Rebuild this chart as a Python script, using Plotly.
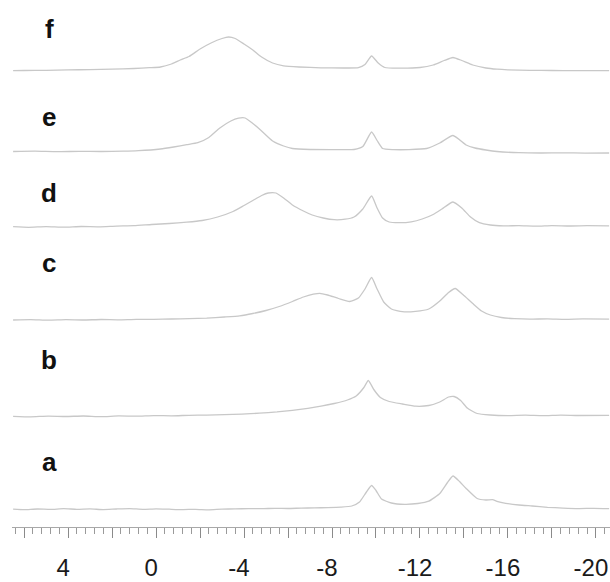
import plotly.graph_objects as go

# Chemical shift (ppm) and intensity readings for each trace, bottom (a) to top (f)
ppm_a = [6.5, 6.0, 5.4, 4.8, 4.2, 3.6, 3.0, 2.4, 1.8, 1.2, 0.6, 0.0, -0.6, -1.2, -1.8, -2.4,
         -3.0, -3.6, -4.2, -4.8, -5.4, -6.0, -6.6, -7.2, -7.8, -8.4, -8.9, -9.25, -9.55, -9.8,
         -10.0, -10.25, -10.7, -11.3, -11.9, -12.4, -12.9, -13.25, -13.5, -13.8, -14.1, -14.6,
         -15.0, -15.3, -15.5, -15.9, -16.5, -17.1, -17.8, -18.5, -19.2, -19.9, -20.6]
int_a = [0.3, -0.2, 0.5, 0.1, 0.8, 0.2, 0.6, -0.1, 0.5, 0.9, 0.2, 0.7, 0.3, -0.1, 0.2, -0.3,
         0.4, 0.6, 0.9, 0.8, 1.2, 1.0, 1.4, 1.6, 1.9, 2.4, 3.5, 7.5, 17.0, 24.0,
         19.0, 10.5, 6.5, 5.2, 6.0, 8.3, 16.0, 27.0, 33.5, 28.0, 21.0, 11.0,
         9.5, 9.8, 8.2, 6.2, 4.5, 3.5, 2.2, 1.4, 0.9, 1.2, 0.8]

ppm_b = [6.5, 5.7, 4.9, 4.1, 3.3, 2.5, 1.7, 0.9, 0.1, -0.7, -1.5, -2.3, -3.1, -3.9, -4.7,
         -5.5, -6.2, -6.9, -7.5, -8.1, -8.7, -9.1, -9.45, -9.65, -9.9, -10.2, -10.6, -11.2,
         -11.8, -12.4, -12.9, -13.3, -13.55, -13.85, -14.15, -14.6, -15.2, -16.0, -16.8,
         -17.6, -18.4, -19.2, -20.6]
int_b = [0.2, -0.3, 0.4, 0.0, 0.5, -0.2, 0.6, 0.3, 0.9, 0.7, 1.2, 1.4, 1.8, 2.4, 3.3,
         4.6, 6.2, 8.2, 10.3, 13.0, 16.5, 20.5, 29.0, 36.0, 27.0, 19.0, 15.0, 12.5,
         10.3, 11.0, 14.5, 19.5, 20.0, 16.0, 8.5, 3.0, 1.5, 0.9, 1.3,
         0.8, 1.4, 1.0, 1.2]

ppm_c = [6.5, 5.7, 4.9, 4.1, 3.3, 2.5, 1.7, 0.9, 0.1, -0.7, -1.5, -2.3, -3.1, -3.8, -4.4,
         -5.0, -5.6, -6.2, -6.7, -7.15, -7.45, -7.8, -8.3, -8.8, -9.2, -9.5, -9.8, -10.05,
         -10.35, -10.7, -11.2, -11.8, -12.4, -12.9, -13.3, -13.6, -13.95, -14.4, -14.8,
         -15.2, -15.7, -16.3, -17.0, -17.8, -18.6, -19.4, -20.6]
int_c = [0.0, 0.4, -0.2, 0.3, 0.0, 0.5, 0.2, 0.7, 0.6, 1.0, 1.3, 1.9, 3.0, 4.2, 6.5,
         9.5, 13.5, 18.5, 23.0, 25.8, 26.7, 25.0, 21.5, 18.5, 22.0, 31.0, 42.5, 31.0,
         18.0, 11.0, 8.3, 8.6, 11.0, 19.0, 27.5, 31.5, 25.5, 16.5, 9.0,
         5.0, 2.5, 1.3, 0.8, 1.2, 0.7, 1.1, 0.9]

ppm_d = [6.5, 5.8, 5.0, 4.2, 3.4, 2.6, 1.8, 1.0, 0.2, -0.6, -1.4, -2.1, -2.8, -3.5, -4.0,
         -4.4, -4.8, -5.1, -5.45, -5.8, -6.2, -6.7, -7.1, -7.6, -8.1, -8.6, -9.0, -9.4,
         -9.8, -10.05, -10.3, -10.6, -11.1, -11.6, -12.1, -12.6, -13.0, -13.5, -13.9,
         -14.3, -14.7, -15.2, -15.8, -16.5, -17.3, -18.0, -18.8, -19.6, -20.6]
int_d = [0.3, -0.3, 0.4, -0.2, 0.5, 0.2, 0.9, 1.3, 2.5, 3.5, 4.8, 6.5, 10.0, 15.5, 21.5,
         26.5, 31.5, 34.0, 34.0, 29.0, 22.0, 16.0, 12.0, 9.0, 7.3, 7.8, 10.0, 18.0,
         31.0, 19.0, 9.0, 5.0, 4.3, 5.2, 8.0, 12.5, 18.0, 25.0, 19.0,
         10.0, 4.3, 2.0, 1.2, 1.3, 0.8, 1.4, 1.0, 1.3, 1.2]

ppm_e = [6.5, 5.5, 4.5, 3.5, 2.5, 1.5, 0.8, -0.2, -0.8, -1.4, -1.9, -2.4, -2.9, -3.4,
         -3.75, -4.05, -4.4, -4.75, -5.3, -5.8, -6.2, -7.0, -8.0, -9.0, -9.4, -9.8, -10.05,
         -10.3, -10.8, -11.5, -12.3, -12.9, -13.5, -14.1, -14.5, -15.0, -15.5, -16.5,
         -17.5, -18.5, -19.5, -20.6]
int_e = [0.0, 0.3, -0.2, 0.2, 0.0, 0.3, 0.8, 2.5, 4.5, 6.8, 8.8, 14.0, 23.5, 30.5,
         33.3, 33.5, 28.0, 21.5, 10.5, 5.5, 3.0, 2.0, 1.9, 2.0, 4.9, 19.5, 11.0,
         3.0, 1.9, 1.9, 3.0, 8.5, 16.0, 6.5, 3.5, 1.5, 0.0, -1.2,
         -1.5, -1.3, -1.6, -1.5]

ppm_f = [6.5, 6.0, 5.0, 4.0, 3.0, 2.0, 1.0, 0.3, -0.2, -0.7, -1.1, -1.5, -2.0, -2.5,
         -3.0, -3.3, -3.6, -4.0, -4.4, -4.8, -5.3, -5.8, -6.5, -7.5, -8.5, -9.2, -9.5,
         -9.8, -10.1, -10.4, -11.0, -12.0, -12.6, -13.1, -13.5, -13.9, -14.4, -15.0,
         -15.5, -16.0, -17.0, -18.0, -19.0, -20.0, -20.6]
int_f = [-0.6, -0.5, -0.3, 0.1, 0.4, 0.8, 1.5, 2.3, 3.0, 6.0, 10.0, 13.5, 21.0, 27.0,
         31.5, 33.0, 31.5, 26.0, 20.0, 13.0, 7.0, 4.2, 3.0, 2.2, 2.0, 2.3, 5.5,
         14.0, 7.0, 2.5, 1.8, 2.5, 5.0, 9.5, 12.5, 9.5, 5.0, 2.0,
         0.8, 0.2, -0.3, -0.5, -0.6, -0.7, -0.7]

trace_names = ["a", "b", "c", "d", "e", "f"]
ppm_sets = [ppm_a, ppm_b, ppm_c, ppm_d, ppm_e, ppm_f]
int_sets = [int_a, int_b, int_c, int_d, int_e, int_f]

# Vertical stacking of the traces and the position of their letter labels
stack_offset = [17.5, 110.5, 207.0, 300.0, 375.5, 457.0]
label_y = [65.0, 167.0, 264.0, 334.0, 410.0, 498.0]

major_ticks = list(range(6, -21, -2))
tick_text = [str(v) if v % 4 == 0 and v != 8 else "" for v in major_ticks]

fig = go.Figure()
for name, xs, ys, off in zip(trace_names, ppm_sets, int_sets, stack_offset):
    fig.add_trace(go.Scatter(
        x=xs, y=[v + off for v in ys], mode="lines", name=name,
        line=dict(color="#c8c8c8", width=1.3, shape="spline", smoothing=0.5),
        hoverinfo="skip", showlegend=False))

for name, yl in zip(trace_names, label_y):
    fig.add_annotation(x=0.062, xref="paper", y=yl, yref="y", text=name,
                       showarrow=False, xanchor="center", yanchor="middle",
                       font=dict(family="Liberation Sans, Arial", size=26,
                                 color="#111111", weight="bold"))

fig.update_layout(
    width=610, height=582,
    margin=dict(l=12, r=0, t=0, b=55),
    paper_bgcolor="white", plot_bgcolor="white",
    xaxis=dict(
        range=[6.55, -20.64], showgrid=False, zeroline=False,
        showline=True, linecolor="#a8a8a8", linewidth=1,
        tickmode="array", tickvals=major_ticks, ticktext=tick_text,
        ticks="outside", ticklen=10, tickcolor="#8a8a8a", tickwidth=1,
        ticklabelshift=5, ticklabelstandoff=9, ticklabeloverflow="allow",
        tickfont=dict(family="Liberation Sans, Arial", size=24, color="#1a1a1a"),
        minor=dict(tickmode="linear", tick0=0, dtick=0.4, ticks="outside",
                   ticklen=6, tickcolor="#9a9a9a", tickwidth=1),
    ),
    yaxis=dict(range=[0, 527], visible=False, fixedrange=True),
)

fig.write_html("out.html")
